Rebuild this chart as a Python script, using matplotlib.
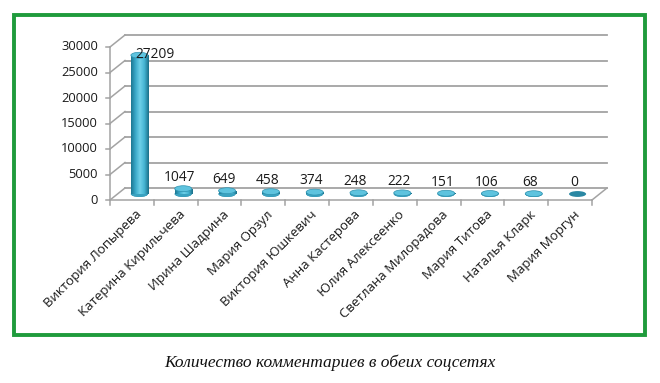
import matplotlib
matplotlib.use("Agg")
import matplotlib.pyplot as plt
import numpy as np
from matplotlib.transforms import ScaledTranslation
from matplotlib.patches import Ellipse, Rectangle
from matplotlib.colors import LinearSegmentedColormap

# ---- data ----
names = ["Виктория Лопырева", "Катерина Кирильчева", "Ирина Шадрина", "Мария Орзул",
         "Виктория Юшкевич", "Анна Кастерова", "Юлия Алексеенко", "Светлана Милорадова",
         "Мария Титова", "Наталья Кларк", "Мария Моргун"]
values = [27209, 1047, 649, 458, 374, 248, 222, 151, 106, 68, 0]
yticks = [0, 5000, 10000, 15000, 20000, 25000, 30000]
caption = "Количество комментариев в обеих соцсетях"

W, H = 660, 383
DPI = 100
fig = plt.figure(figsize=(W / DPI, H / DPI), dpi=DPI)
fig.patch.set_facecolor("white")

font = ["Open Sans", "DejaVu Sans"]
fs = 9.3
txtc = "#1a1a1a"

# front plane in pixels
x0p, x1p, y0p, y1p = 110, 592, 200, 47
ax = fig.add_axes([x0p / W, 1 - y0p / H, (x1p - x0p) / W, (y0p - y1p) / H])
ax.set_xlim(-0.5, len(values) - 0.5)
ax.set_ylim(0, 30000)
ax.axis("off")

depth_dx, depth_dy = 15 / DPI, 12 / DPI
front = ax.transData
back = ax.transData + ScaledTranslation(depth_dx, depth_dy, fig.dpi_scale_trans)
mid = ax.transData + ScaledTranslation(depth_dx / 2, depth_dy / 2, fig.dpi_scale_trans)
ylab = ax.transData + ScaledTranslation(-12 / DPI, 0, fig.dpi_scale_trans)

n = len(values)
xl, xr = -0.5, n - 0.5
gridc = "#a3a3a3"

# back wall gridlines and left wall diagonals
for v in yticks:
    ax.plot([xl, xr], [v, v], color=gridc, lw=1.3, transform=back, clip_on=False, zorder=1)
    q1 = front.inverted().transform(back.transform((xl, v)))
    ax.plot([xl, q1[0]], [v, q1[1]], color=gridc, lw=1.1, transform=front, clip_on=False, zorder=1)
    # y tick marks
    ax.plot([xl - 0.1, xl], [v, v], color=gridc, lw=1.1, transform=front, clip_on=False, zorder=1)
    ax.text(xl, v, str(v), ha="right", va="center", fontsize=fs, family=font,
            color=txtc, transform=ylab)

# front axis lines
ax.plot([xl, xl], [0, 30000], color=gridc, lw=1.1, transform=front, clip_on=False, zorder=1)
ax.plot([xl, xr], [0, 0], color=gridc, lw=1.1, transform=front, clip_on=False, zorder=1)
q = front.inverted().transform(back.transform((xr, 0)))
ax.plot([xr, q[0]], [0, q[1]], color=gridc, lw=1.1, transform=front, clip_on=False, zorder=1)
# x tick marks
for k in range(n + 1):
    ax.plot([xl + k, xl + k], [0, -900], color=gridc, lw=1.1, transform=front, clip_on=False, zorder=1)

# cylinders
bw = 0.39
eh = 1150  # ellipse height in value units (~6 px)
cmap = LinearSegmentedColormap.from_list("cyl", ["#1c7893", "#3aa9c9", "#6fd0e8", "#45b5d3", "#1b6f88"])
grad = np.linspace(0, 1, 64).reshape(1, -1)
x = np.arange(n)
bars = ax.bar(x, values, width=bw, color="#3aa9c9", transform=mid, zorder=3, linewidth=0)
for xi, v, b in zip(x, values, bars):
    if v > 0:
        im = ax.imshow(grad, cmap=cmap, extent=[xi - bw / 2, xi + bw / 2, 0, v], aspect="auto",
                       transform=mid, zorder=3.1, interpolation="bilinear")
        im.set_clip_path(b)
    bot = Ellipse((xi, 0), bw, eh, transform=mid, facecolor="#237f9b" if v > 0 else "#2a87a3",
                  edgecolor="none", zorder=2.9)
    ax.add_patch(bot)
    if v > 0:
        bot2 = Ellipse((xi, 0), bw, eh, transform=mid, facecolor="#3aa2c0", edgecolor="none", zorder=3.05)
        ax.add_patch(bot2)
        top = Ellipse((xi, v), bw, eh, transform=mid, facecolor="#5ec3de", edgecolor="#2f93b0",
                      lw=0.5, zorder=3.3)
        ax.add_patch(top)

    # data labels
    if v > 0.5 * 30000:
        off = (0.35, 200)
    else:
        off = (-0.08, 2200)
    ax.text(xi + off[0], v + off[1], str(v), ha="center", va="center", fontsize=fs + 0.6,
            family=font, color=txtc, transform=mid, zorder=5)

ax.set_xlim(-0.5, n - 0.5)
ax.set_ylim(0, 30000)

# category labels
lab_off = ScaledTranslation(3 / DPI, -8 / DPI, fig.dpi_scale_trans)
for xi, name in zip(x, names):
    ax.text(xi, 0, name, rotation=45, ha="right", va="top", rotation_mode="anchor",
            fontsize=fs + 0.2, family=font, color=txtc, transform=front + lab_off)

# green frame
fig.patches.append(Rectangle((13.5 / W, 1 - 334.5 / H), (644.5 - 13.5) / W, (334.5 - 14.5) / H,
                             transform=fig.transFigure, fill=False, edgecolor="#1f9b3c", lw=2.8))

# caption
fig.text(330 / W, 1 - 363 / H, caption, ha="center", va="center", fontsize=12.5,
         family="Liberation Serif", style="italic", color="#111111")

fig.savefig("out.png", dpi=DPI, facecolor="white")
